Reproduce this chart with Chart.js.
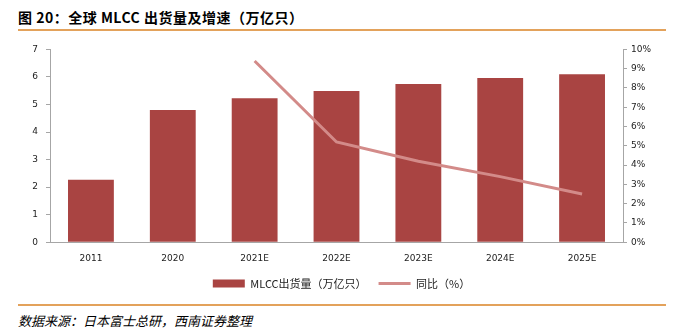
<!DOCTYPE html>
<html>
<head>
<meta charset="utf-8">
<script src="https://cdn.jsdelivr.net/npm/chart.js@4/dist/chart.umd.min.js"></script>
<style>
  body { margin: 0; background: #fff; width: 683px; height: 335px; position: relative; overflow: hidden; }
  .title { position: absolute; left: 18px; top: 7px; font: bold 14px "Noto Sans CJK SC", sans-serif; color: #000; letter-spacing: 0.5px; }
  .rule { position: absolute; left: 18px; width: 648px; height: 2px; background: #e3a25b; }
  .source { position: absolute; left: 18px; top: 311px; font: italic 13px "Noto Sans CJK SC", serif; color: #000; }
  .wrap { position: absolute; left: 0; top: 36px; width: 683px; height: 264px; }
</style>
</head>
<body>
<div class="title">图 20：全球 MLCC 出货量及增速（万亿只）</div>
<div class="rule" style="top:29px"></div>
<div class="wrap"><canvas id="mlccChart"></canvas></div>
<div class="rule" style="top:304px"></div>
<div class="source">数据来源：日本富士总研，西南证券整理</div>
<script>
// categories and values
const years = ['2011', '2020', '2021E', '2022E', '2023E', '2024E', '2025E'];
const shipments = [2.27, 4.8, 5.23, 5.49, 5.74, 5.96, 6.1];
const growth = [null, null, 9.4, 5.2, 4.2, 3.4, 2.5];

const barColor = '#a94442';
const lineColor = '#d38b89';
const axisColor = '#a6a6a6';
const tickFont = { family: 'DejaVu Sans', size: 9 };

new Chart(document.getElementById('mlccChart'), {
    type: 'bar',
    data: {
        labels: years,
        datasets: [{
            type: 'line',
            label: '同比（%）',
            data: growth,
            yAxisID: 'y1',
            borderColor: lineColor,
            backgroundColor: lineColor,
            borderWidth: 3,
            pointRadius: 0,
            pointStyle: 'line',
            tension: 0,
            order: 0
        }, {
            label: 'MLCC出货量（万亿只）',
            data: shipments,
            yAxisID: 'y',
            backgroundColor: barColor,
            borderWidth: 0,
            pointStyle: 'rect',
            barPercentage: 0.56,
            categoryPercentage: 1,
            order: 1
        }]
    },
    options: {
        responsive: true,
        maintainAspectRatio: false,
        animation: false,
        layout: { padding: { top: 4, bottom: 1 } },
        plugins: {
            tooltip: { enabled: false },
            legend: {
                position: 'bottom',
                reverse: true,
                labels: {
                    usePointStyle: true,
                    pointStyleWidth: 32,
                    boxHeight: 8,
                    padding: 12,
                    color: '#222',
                    font: { family: 'Noto Sans CJK SC', size: 11 }
                }
            }
        },
        scales: {
            x: {
                // let the axis sit lower, labels overlap the legend's top padding
                afterFit: s => { s.height -= 9; },
                grid: { display: false, drawTicks: false },
                border: { color: axisColor },
                ticks: { color: '#222', font: tickFont, padding: 11, maxRotation: 0 }
            },
            y: {
                position: 'left',
                min: 0,
                max: 7,
                afterFit: s => { s.width = 50; },
                grid: { drawOnChartArea: false, tickLength: 4, color: axisColor },
                border: { color: axisColor },
                ticks: { stepSize: 1, color: '#222', font: tickFont, padding: 8 }
            },
            y1: {
                position: 'right',
                min: 0,
                max: 10,
                afterFit: s => { s.width = 60; },
                grid: { drawOnChartArea: false, tickLength: 4, color: axisColor },
                border: { color: axisColor },
                ticks: { stepSize: 1, color: '#222', font: tickFont, padding: 4, callback: v => v + '%' }
            }
        }
    }
});
</script>
</body>
</html>
